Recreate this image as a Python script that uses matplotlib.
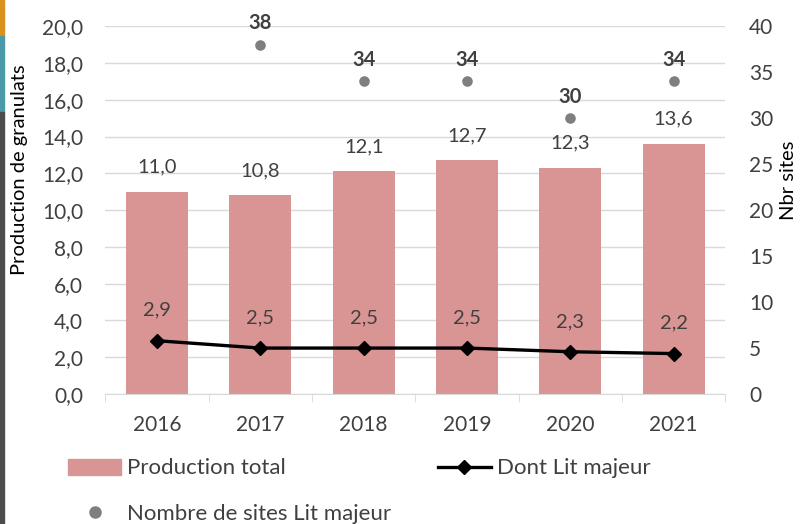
import matplotlib.pyplot as plt
from matplotlib.lines import Line2D
from matplotlib.patches import Patch, Rectangle
import numpy as np

annees = ["2016", "2017", "2018", "2019", "2020", "2021"]
production_total = [11.0, 10.8, 12.1, 12.7, 12.3, 13.6]
lit_majeur = [2.9, 2.5, 2.5, 2.5, 2.3, 2.2]
nbr_sites = [None, 38, 34, 34, 30, 34]

COULEUR_BARRE = "#D99594"
COULEUR_POINT = "#7F7F7F"
COULEUR_TEXTE = "#404040"
COULEUR_GRILLE = "#D9D9D9"


def fmt(v):
    return f"{v:.1f}".replace(".", ",")


def main():
    plt.rcParams["font.family"] = ["Lato", "DejaVu Sans"]
    plt.rcParams["font.size"] = 15

    fig = plt.figure(figsize=(8, 5.24), dpi=100)
    ax = fig.add_axes([0.1316, 0.248, 0.775, 0.702])
    ax2 = ax.twinx()

    x = np.arange(len(annees))
    ax.bar(x, production_total, width=0.6, color=COULEUR_BARRE, zorder=2)
    ax.plot(x, lit_majeur, color="black", lw=2.4, marker="D", ms=7.5, zorder=3)

    for xi, v in zip(x, production_total):
        ax.text(xi, v + 1.36, fmt(v), ha="center", va="center",
                color=COULEUR_TEXTE, fontsize=14.5)
    for xi, v in zip(x, lit_majeur):
        ax.text(xi, v + 1.65, fmt(v), ha="center", va="center",
                color=COULEUR_TEXTE, fontsize=14.5)

    xs = [xi for xi, n in zip(x, nbr_sites) if n is not None]
    ns = [n for n in nbr_sites if n is not None]
    ax2.scatter(xs, ns, s=58, color=COULEUR_POINT, zorder=3, linewidths=0)
    for xi, n in zip(xs, ns):
        ax2.text(xi, n + 2.3, str(n), ha="center", va="center",
                 color=COULEUR_TEXTE, fontweight="bold", fontsize=14.5)

    ax.set_xlim(-0.5, len(annees) - 0.5)
    ax.set_ylim(0, 20)
    ax2.set_ylim(0, 40)
    ax.set_yticks(np.arange(0, 20.1, 2))
    ax.set_yticklabels([fmt(v) for v in np.arange(0, 20.1, 2)])
    ax2.set_yticks(range(0, 41, 5))
    ax.set_xticks(x)
    ax.set_xticklabels(annees)
    ax.set_xticks(np.arange(-0.5, len(annees)), minor=True)

    ax.grid(axis="y", color=COULEUR_GRILLE, lw=1, zorder=0)
    ax.set_axisbelow(True)
    for a in (ax, ax2):
        for s in a.spines.values():
            s.set_visible(False)
    ax.spines["bottom"].set_visible(True)
    ax.spines["bottom"].set_color(COULEUR_GRILLE)

    ax.tick_params(axis="y", length=0, pad=16, colors=COULEUR_TEXTE)
    ax2.tick_params(axis="y", length=0, pad=17, colors=COULEUR_TEXTE)
    ax.tick_params(axis="x", which="major", length=0, pad=15, colors=COULEUR_TEXTE)
    ax.tick_params(axis="x", which="minor", length=6, color=COULEUR_GRILLE)

    ax.set_ylabel("Production de granulats", color="black", fontsize=14.5)
    ax2.set_ylabel("Nbr sites", color="black", fontsize=14.5)
    ax.yaxis.set_label_coords(-0.125, 0.61)
    ax2.yaxis.set_label_coords(1.088, 0.58)

    handles = [
        Patch(color=COULEUR_BARRE),
        Line2D([], [], color=COULEUR_POINT, marker="o", ls="none", ms=8),
        Line2D([], [], color="black", lw=2.4, marker="D", ms=7),
    ]
    labels = ["Production total", "Nombre de sites Lit majeur", "Dont Lit majeur"]
    leg = fig.legend(handles, labels, ncol=2, loc="upper left",
                     bbox_to_anchor=(0.085, 0.125), frameon=False, fontsize=16,
                     handlelength=2.4, handletextpad=0.25, columnspacing=2.1,
                     labelspacing=1.13, borderpad=0, borderaxespad=0)
    for t in leg.get_texts():
        t.set_color(COULEUR_TEXTE)

    # liseré coloré sur le bord gauche
    fig.patches.extend([
        Rectangle((0, 1 - 36 / 524), 4 / 800, 36 / 524, transform=fig.transFigure,
                  color="#D9921E", zorder=0),
        Rectangle((0, 1 - 112 / 524), 4 / 800, 76 / 524, transform=fig.transFigure,
                  color="#4A9AAA", zorder=0),
        Rectangle((0, 0), 4 / 800, 1 - 112 / 524, transform=fig.transFigure,
                  color="#4D4D4D", zorder=0),
    ])

    fig.savefig("out.png", dpi=100)


if __name__ == "__main__":
    main()
